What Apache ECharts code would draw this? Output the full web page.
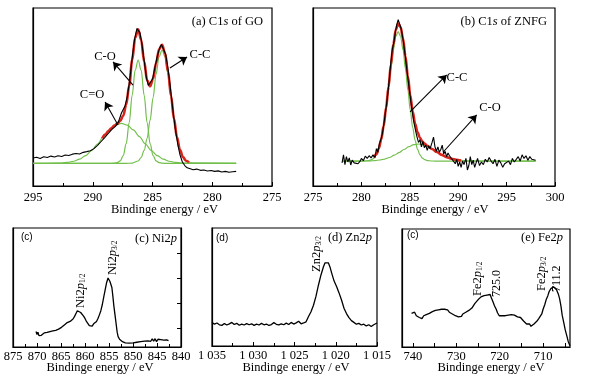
<!DOCTYPE html>
<html><head><meta charset="utf-8">
<script src="https://cdn.jsdelivr.net/npm/echarts@6/dist/echarts.min.js"></script>
<style>html,body{margin:0;padding:0;background:#fff}#c{width:597px;height:382px}</style>
</head><body><div id="c"></div>
<script>
// ---------- DATA (binding energy eV, intensity a.u.) ----------
const aExp = [[295,15.7],[294.7,16.2],[294.4,15.5],[294.1,16.4],[293.8,16.0],[293.5,16.8],[293.2,16.3],[292.9,17.0],[292.6,16.6],[292.3,17.4],[292.0,17.1],[291.7,17.9],[291.4,18.3],[291.1,18.0],[290.8,18.9],[290.5,19.3],[290.2,19.8],[289.9,21.0],[289.6,22.8],[289.3,25.0],[289.0,27.2],[288.7,29.5],[288.4,31.8],[288.1,33.5],[287.85,36.0],[287.6,41.0],[287.45,43.0],[287.3,45.0],[287.1,50.5],[286.9,60.0],[286.7,72.0],[286.5,82.5],[286.3,88.5],[286.2,89.5],[286.05,86.0],[285.9,80.5],[285.7,70.5],[285.5,60.5],[285.35,56.5],[285.2,57.0],[285.0,60.0],[284.8,66.5],[284.6,73.0],[284.4,77.5],[284.25,79.5],[284.1,78.5],[283.9,74.0],[283.7,66.0],[283.5,55.0],[283.3,43.0],[283.1,32.5],[282.9,24.0],[282.7,17.5],[282.5,13.5],[282.3,11.5],[282.1,10.2],[281.9,9.8],[281.6,9.1],[281.3,9.5],[281.0,8.8],[280.7,9.0],[280.4,8.4],[280.1,8.7],[279.8,8.2],[279.5,8.5],[279.2,7.9],[278.9,8.2],[278.6,7.7],[278.3,8.0],[278.0,8.2]];
const aFit = [[289.2,26.8],[288.95,28.9],[288.7,30.8],[288.45,32.4],[288.2,33.9],[287.95,35.1],[287.7,36.6],[287.45,39.5],[287.2,45.7],[286.95,56.4],[286.7,70.7],[286.45,83.3],[286.2,88.0],[285.95,82.1],[285.7,70.1],[285.45,59.4],[285.2,56.0],[284.95,60.4],[284.7,69.1],[284.45,76.8],[284.2,79.3],[283.95,74.7],[283.7,64.2],[283.45,50.7],[283.2,37.7],[282.95,27.3],[282.7,20.3],[282.45,16.2],[282.2,14.2],[281.95,13.3]];
const aCeqO = [[295,12.7],[293,12.8],[292.6,12.9],[292.1,13.3],[291.6,13.9],[291.1,15.1],[290.6,17.1],[290.1,19.9],[289.6,23.6],[289.1,27.7],[288.6,31.5],[288.1,34.2],[287.6,35.2],[287.1,34.2],[286.6,31.5],[286.1,27.7],[285.6,23.6],[285.1,19.9],[284.6,17.1],[284.1,15.1],[283.6,13.9],[283.1,13.3],[282.6,12.9],[282,12.8],[278,12.7]];
const aCO = [[295,12.7],[288.7,12.7],[288.2,12.8],[287.95,13.1],[287.7,14.1],[287.45,17.1],[287.2,23.8],[286.95,35.6],[286.7,51.1],[286.45,65.1],[286.2,70.8],[285.95,65.1],[285.7,51.1],[285.45,35.6],[285.2,23.8],[284.95,17.1],[284.7,14.1],[284.45,13.1],[284.2,12.8],[283.7,12.7],[278,12.7]];
const aCC = [[295,12.7],[287.2,12.7],[286.7,12.85],[286.2,14.05],[285.95,16.0],[285.7,20.0],[285.45,26.8],[285.2,37.0],[284.95,49.7],[284.7,62.8],[284.45,72.7],[284.2,76.4],[283.95,72.7],[283.7,62.8],[283.45,49.7],[283.2,37.0],[282.95,26.8],[282.7,20.0],[282.45,16.0],[282.2,14.05],[281.7,12.85],[278,12.7]];

const bExp = [[278.0,13.0],[278.15,17.5],[278.3,12.0],[278.45,16.5],[278.6,13.5],[278.75,15.8],[278.9,11.8],[279.05,14.5],[279.25,13.0],[279.45,14.0],[279.65,12.5],[279.85,13.8],[280.0,15.5],[280.2,14.2],[280.4,16.8],[280.6,15.5],[280.8,17.0],[281.0,15.8],[281.2,17.5],[281.4,16.0],[281.55,21.0],[281.7,19.0],[281.85,23.5],[282.0,26.0],[282.15,29.0],[282.3,34.0],[282.45,40.0],[282.6,46.0],[282.75,53.0],[282.9,61.0],[283.05,70.0],[283.2,77.0],[283.35,80.5],[283.5,86.0],[283.65,90.5],[283.8,93.5],[283.95,91.0],[284.1,88.5],[284.25,84.0],[284.4,78.5],[284.55,72.0],[284.7,65.0],[284.85,58.5],[285.0,52.0],[285.15,45.5],[285.3,40.0],[285.45,35.0],[285.6,31.0],[285.75,27.5],[285.9,24.5],[286.05,26.0],[286.2,22.0],[286.35,25.0],[286.5,21.5],[286.65,23.0],[286.8,20.0],[286.95,22.5],[287.1,21.0],[287.3,24.5],[287.45,27.5],[287.6,22.0],[287.75,19.5],[287.9,22.0],[288.05,19.0],[288.2,20.5],[288.35,23.0],[288.5,18.0],[288.65,19.5],[288.8,16.5],[288.95,18.5],[289.1,17.0],[289.3,15.5],[289.5,16.5],[289.7,12.5],[289.85,15.0],[290.0,11.0],[290.15,13.5],[290.3,10.5],[290.45,14.0],[290.6,12.0],[290.8,15.5],[290.95,9.0],[291.1,11.5],[291.25,16.5],[291.4,12.0],[291.55,14.5],[291.7,10.5],[291.85,13.0],[292.0,15.5],[292.2,11.5],[292.4,13.5],[292.6,12.0],[292.8,15.0],[293.0,13.5],[293.2,16.0],[293.4,14.0],[293.6,12.5],[293.8,15.0],[294.0,11.0],[294.2,14.5],[294.4,13.0],[294.6,10.5],[294.8,12.5],[295.0,11.5],[295.2,14.0],[295.4,12.0],[295.6,15.5],[295.8,13.5],[296.0,12.5],[296.2,16.5],[296.4,14.0],[296.6,17.5],[296.8,15.5],[297.0,17.0],[297.2,14.5],[297.4,16.5],[297.6,15.0],[297.8,15.5],[298.0,14.5]];
const bFit = [[281.3,15.95],[281.55,17.9],[281.8,21.1],[282.05,26.3],[282.3,33.8],[282.55,43.9],[282.8,55.7],[283.05,68.3],[283.3,79.6],[283.55,87.7],[283.8,91.2],[284.05,89.3],[284.3,82.8],[284.55,72.9],[284.8,61.7],[285.05,51.0],[285.3,41.8],[285.55,35.0],[285.8,30.2],[286.05,27.1],[286.3,25.0],[286.55,23.7],[286.8,22.6],[287.3,20.8],[287.8,19.1],[288.3,17.5],[288.8,16.2],[289.3,15.3],[289.8,14.7],[290.3,14.3]];
const bCC = [[278,14.0],[280,14.0],[280.3,14.05],[280.8,14.3],[281.05,14.8],[281.3,15.7],[281.55,17.5],[281.8,20.6],[282.05,25.6],[282.3,32.8],[282.55,42.5],[282.8,53.9],[283.05,65.9],[283.3,76.6],[283.55,84.0],[283.8,86.7],[284.05,84.0],[284.3,76.6],[284.55,65.9],[284.8,53.9],[285.05,42.5],[285.3,32.8],[285.55,25.6],[285.8,20.6],[286.05,17.5],[286.3,15.7],[286.55,14.8],[286.8,14.3],[287.3,14.05],[288,14.0],[298,14.0]];
const bCO = [[278,14.0],[279.9,14.0],[280.9,14.1],[281.4,14.3],[281.9,14.6],[282.4,15.15],[282.9,16.0],[283.4,17.3],[283.9,18.8],[284.4,20.5],[284.9,22.1],[285.4,23.2],[285.9,23.6],[286.4,23.2],[286.9,22.1],[287.4,20.5],[287.9,18.8],[288.4,17.3],[288.9,16.0],[289.4,15.15],[289.9,14.6],[290.4,14.3],[290.9,14.1],[291.9,14.0],[298,14.0]];

const cNi = [[870.2,13.0],[870.0,10.5],[869.8,12.5],[869.6,9.5],[869.4,11.0],[869.1,9.8],[868.8,10.5],[868.5,11.8],[868.2,10.8],[867.9,12.2],[867.6,11.5],[867.3,13.0],[867.0,12.0],[866.7,13.5],[866.4,12.8],[866.1,14.0],[865.8,13.5],[865.5,15.0],[865.2,14.5],[864.9,16.5],[864.6,16.0],[864.3,18.5],[864.0,19.0],[863.7,20.5],[863.4,20.0],[863.1,21.5],[862.8,22.0],[862.5,23.5],[862.2,25.5],[861.9,28.0],[861.6,30.5],[861.4,31.8],[861.2,31.0],[860.9,29.0],[860.6,27.5],[860.3,26.0],[860.0,24.0],[859.7,21.5],[859.4,20.0],[859.1,18.0],[858.8,19.0],[858.5,17.5],[858.2,19.5],[857.9,20.0],[857.6,21.5],[857.3,24.0],[857.0,27.0],[856.7,30.5],[856.4,35.5],[856.1,42.0],[855.8,48.0],[855.5,54.0],[855.2,58.0],[855.0,57.5],[854.8,55.0],[854.6,52.5],[854.4,50.0],[854.2,43.0],[854.0,35.0],[853.75,27.0],[853.5,19.0],[853.3,12.5],[853.1,8.7],[852.8,6.5],[852.5,5.0],[852.2,4.5],[851.9,4.0],[851.6,3.5],[851.2,4.0],[850.8,3.2],[850.4,3.8],[850.0,3.5],[849.6,4.2],[849.2,4.0],[848.8,4.8],[848.4,4.5],[848.0,5.2],[847.6,5.0],[847.2,5.8],[846.9,5.2],[846.6,6.5],[846.3,4.8],[846.0,6.8],[845.7,5.0],[845.4,7.0],[845.1,4.5],[844.8,6.5],[844.5,5.0],[844.2,6.2],[843.9,5.2],[843.6,5.8],[843.3,5.5],[843.0,6.0],[842.6,5.3]];

const dZn = [[1035.0,20.0],[1034.7,18.5],[1034.4,19.5],[1034.1,18.0],[1033.8,17.5],[1033.5,19.0],[1033.2,17.8],[1032.9,18.8],[1032.6,20.0],[1032.3,18.2],[1032.0,19.2],[1031.7,17.6],[1031.4,18.6],[1031.1,17.8],[1030.8,19.0],[1030.5,18.0],[1030.2,18.8],[1029.9,17.5],[1029.6,18.5],[1029.3,17.8],[1029.0,19.2],[1028.7,18.0],[1028.4,18.6],[1028.1,17.4],[1027.8,18.2],[1027.5,19.8],[1027.2,18.4],[1026.9,17.9],[1026.6,18.8],[1026.3,18.0],[1026.0,19.4],[1025.7,18.2],[1025.4,20.0],[1025.1,18.6],[1024.8,19.6],[1024.5,21.0],[1024.2,18.8],[1023.9,19.5],[1023.6,20.5],[1023.3,25.0],[1023.0,29.0],[1022.7,34.5],[1022.4,42.0],[1022.1,51.5],[1021.8,60.0],[1021.5,67.0],[1021.3,70.5],[1021.1,71.5],[1020.9,70.5],[1020.7,67.0],[1020.5,62.0],[1020.2,55.0],[1019.9,50.5],[1019.6,45.0],[1019.3,39.0],[1019.0,32.0],[1018.7,27.5],[1018.4,24.0],[1018.1,21.5],[1017.8,20.0],[1017.5,18.5],[1017.2,19.2],[1016.9,17.8],[1016.6,18.5],[1016.3,17.0],[1016.0,18.0],[1015.7,16.5],[1015.4,18.0],[1015.0,19.5]];

const eFe = [[740.3,28.5],[739.9,27.0],[739.6,29.5],[739.2,26.5],[738.9,28.0],[738.5,25.0],[738.2,26.5],[737.9,24.0],[737.5,26.5],[737.2,25.5],[736.9,27.5],[736.5,26.8],[736.2,28.5],[735.8,28.0],[735.5,30.0],[735.1,29.0],[734.8,31.0],[734.4,30.0],[734.1,31.5],[733.7,30.5],[733.4,32.0],[733.0,30.8],[732.7,32.0],[732.3,31.0],[732.0,31.5],[731.6,29.5],[731.3,30.0],[730.9,28.0],[730.6,28.5],[730.2,26.5],[729.9,27.0],[729.5,25.5],[729.2,27.0],[728.8,26.0],[728.5,28.0],[728.1,26.5],[727.8,29.5],[727.4,28.5],[727.1,31.0],[726.7,30.5],[726.4,33.0],[726.0,34.5],[725.7,37.0],[725.3,37.5],[725.0,40.0],[724.6,41.0],[724.3,42.5],[723.9,42.0],[723.6,43.5],[723.2,42.8],[722.9,44.0],[722.5,43.0],[722.2,44.5],[721.9,41.5],[721.5,38.0],[721.2,35.0],[720.8,32.0],[720.5,29.0],[720.1,26.5],[719.8,25.5],[719.4,26.5],[719.1,25.0],[718.7,26.5],[718.4,25.2],[718.0,27.0],[717.7,26.0],[717.3,27.5],[717.0,26.0],[716.6,27.0],[716.3,26.5],[715.9,25.5],[715.6,26.0],[715.2,25.0],[714.9,23.5],[714.5,22.0],[714.2,20.5],[713.8,19.5],[713.5,18.0],[713.1,19.5],[712.8,17.5],[712.4,18.5],[712.1,19.5],[711.7,20.5],[711.4,22.0],[711.0,24.0],[710.7,25.0],[710.3,28.0],[710.0,32.0],[709.6,36.0],[709.3,40.0],[708.9,43.5],[708.6,47.0],[708.2,49.5],[707.9,50.5],[707.6,51.0],[707.2,50.0],[706.9,48.5],[706.5,45.0],[706.2,41.0],[705.9,35.0],[705.6,27.0],[705.2,20.0],[704.9,14.5],[704.5,9.0],[704.2,4.5],[703.8,1.0]];

// tick labels
const aTicks = [295,290,285,280,275];
const bTicks = [275,280,285,290,295,300];
const cTicks = [875,870,865,860,855,850,845,840];
const dTicks = [1035,1030,1025,1020,1015];
const eTicks = [740,730,720,710];
const eMinor = [740,735,730,725,720,715,710,705];
const cRightTicks = [16,37,58,79];

// arrow annotations [from, to] in data coords
const aArrows = [[[286.63,56.7],[288.3,69.7]],[[287.89,34.3],[288.97,47.2]],[[283.54,66.3],[282.11,72.5]]];
const bArrows = [[[285.02,41.6],[288.81,62.4]],[[288.46,19.1],[291.91,39.9]]];

// ---------- CHART ----------
const SERIF = 'Liberation Serif';
const SANS = 'Liberation Sans';
const GREEN = '#72bf4c', RED = '#d9261c', BLACK = '#000';
const chart = echarts.init(document.getElementById('c'), null, {renderer:'canvas'});

const grids = [
  {left:33, top:8, width:239, height:178},
  {left:313, top:8, width:242, height:178},
  {left:13, top:228, width:168, height:119},
  {left:212, top:228, width:165, height:118},
  {left:402, top:229, width:168, height:118}
].map(g => Object.assign({show:true, borderColor:'#000', borderWidth:1.2, backgroundColor:'transparent'}, g));

function lab(margin, custom, fmt){
  const o = {color:'#000', fontFamily:SERIF, fontSize:12.5, margin, customValues:custom, showMinLabel:true, showMaxLabel:true};
  if (fmt) o.formatter = fmt;
  return o;
}
function xAx(i, min, max, inverse, extra){
  return Object.assign({
    type:'value', gridIndex:i, min, max, inverse,
    axisLine:{show:true, onZero:false, lineStyle:{color:'#000', width:1.2}},
    axisTick:{show:true, inside:true, length:4, lineStyle:{color:'#000', width:1}},
    minorTick:{show:true, splitNumber:2, length:3, lineStyle:{color:'#000', width:1}},
    splitLine:{show:false}, minorSplitLine:{show:false}
  }, extra);
}
const xAxes = [
  xAx(0, 275, 295, true, {interval:5, axisLabel:lab(5, aTicks)}),
  xAx(1, 275, 300, false, {interval:5, axisLabel:lab(5, bTicks)}),
  xAx(2, 840, 875, true, {interval:5, axisLabel:lab(3, cTicks)}),
  xAx(3, 1015, 1035, true, {interval:5, axisLabel:lab(3, dTicks, v => String(v).replace(/^(\d)(\d{3})$/, '$1 $2'))}),
  xAx(4, 703.8, 742.5, true, {
      axisLabel:lab(3, eTicks),
      axisTick:{show:true, inside:true, length:4, customValues:eMinor, lineStyle:{color:'#000', width:1}},
      minorTick:{show:false}})
];
function yAx(i, extra){
  return Object.assign({type:'value', gridIndex:i, min:0, max:100,
    axisLine:{show:true, lineStyle:{color:'#000', width:1.2}}, axisTick:{show:false},
    axisLabel:{show:false}, splitLine:{show:false}}, extra);
}
const yAxes = [yAx(0), yAx(1), yAx(2), yAx(3), yAx(4),
  yAx(2, {position:'right', axisTick:{show:true, inside:true, length:4, customValues:cRightTicks, lineStyle:{color:'#000', width:1}}})];

function line(data, gi, color, width, smooth, z, extra){
  const s = {type:'line', xAxisIndex:gi, yAxisIndex:gi, data, showSymbol:false, symbol:'none',
    smooth: smooth ? 0.35 : false, lineStyle:{color, width}, z, animation:false, silent:true};
  if (smooth) s.smoothMonotone = 'x';
  return Object.assign(s, extra);
}
function arrows(list){
  return {silent:true, symbol:['none','arrow'], symbolSize:8, animation:false, precision:4,
    label:{show:false}, emphasis:{disabled:true},
    lineStyle:{color:'#000', width:1.1, type:'solid'},
    itemStyle:{color:'#000'},
    data: list.map(a => [{coord:a[0]}, {coord:a[1]}])};
}
const series = [
  line(aCeqO, 0, GREEN, 1.2, true, 2),
  line(aCO, 0, GREEN, 1.2, true, 2),
  line(aCC, 0, GREEN, 1.2, true, 2),
  line(aFit, 0, RED, 2.6, true, 3),
  line(aExp, 0, BLACK, 1.1, false, 4, {markLine: arrows(aArrows)}),
  line(bCC, 1, GREEN, 1.2, true, 2),
  line(bCO, 1, GREEN, 1.2, true, 2),
  line(bFit, 1, RED, 2.6, true, 3),
  line(bExp, 1, BLACK, 1.1, false, 4, {markLine: arrows(bArrows)}),
  line(cNi, 2, BLACK, 1.3, false, 4),
  line(dZn, 3, BLACK, 1.3, false, 4),
  line(eFe, 4, BLACK, 1.3, false, 4)
];

const RICH = {
  n:{fontFamily:SERIF, fontSize:12.5, fill:'#000'},
  i:{fontFamily:SERIF, fontSize:12.5, fontStyle:'italic', fill:'#000'},
  s:{fontFamily:SERIF, fontSize:7.5, fill:'#000', verticalAlign:'bottom'}
};
function T(x, y, text, o){
  o = o || {};
  return {type:'text', x, y, rotation:o.rot || 0, silent:true, z:100,
    style:{text, fill:'#000', fontFamily:o.ff || SERIF, fontSize:o.fs || 12.5,
      align:o.align || 'center', verticalAlign:o.va || 'middle', rich:RICH}};
}
const ROT = Math.PI/2;
const graphics = [
  T(263, 22, '{n|(a) C1}{i|s}{n| of GO}', {align:'right'}),
  T(105, 57, 'C-O'), T(92, 95, 'C=O'), T(200, 55, 'C-C'),
  T(547, 22, '{n|(b) C1}{i|s}{n| of ZNFG}', {align:'right'}),
  T(457, 78, 'C-C'), T(490, 108, 'C-O'),
  T(164.5, 210, 'Bindinge energy / eV'),
  T(435, 210, 'Bindinge energy / eV'),
  T(100, 368, 'Bindinge energy / eV'),
  T(296, 368, 'Bindinge energy / eV'),
  T(491, 368, 'Bindinge energy / eV'),
  T(21, 237, '(c)', {align:'left', ff:SANS, fs:10}),
  T(177, 239, '{n|(c) Ni2}{i|p}', {align:'right'}),
  T(81, 308, '{n|Ni2}{i|p}{s|1/2}', {align:'left', rot:ROT}),
  T(113, 275, '{n|Ni2}{i|p}{s|3/2}', {align:'left', rot:ROT}),
  T(216, 238, '(d)', {align:'left', ff:SANS, fs:10}),
  T(372, 238, '{n|(d) Zn2}{i|p}', {align:'right'}),
  T(317, 272, '{n|Zn2}{i|p}{s|3/2}', {align:'left', rot:ROT}),
  T(407, 235, '(c)', {align:'left', ff:SANS, fs:10}),
  T(563, 238, '{n|(e) Fe2}{i|p}', {align:'right'}),
  T(478, 296, '{n|Fe2}{i|p}{s|1/2}', {align:'left', rot:ROT}),
  T(497, 297, '725.0', {align:'left', rot:ROT, fs:12}),
  T(542, 291, '{n|Fe2}{i|p}{s|3/2}', {align:'left', rot:ROT}),
  T(557, 292, '711.2', {align:'left', rot:ROT, fs:12})
];

chart.setOption({
  backgroundColor:'#fff', animation:false,
  textStyle:{fontFamily:SERIF},
  grid:grids, xAxis:xAxes, yAxis:yAxes, series, graphic:graphics
});
</script></body></html>
